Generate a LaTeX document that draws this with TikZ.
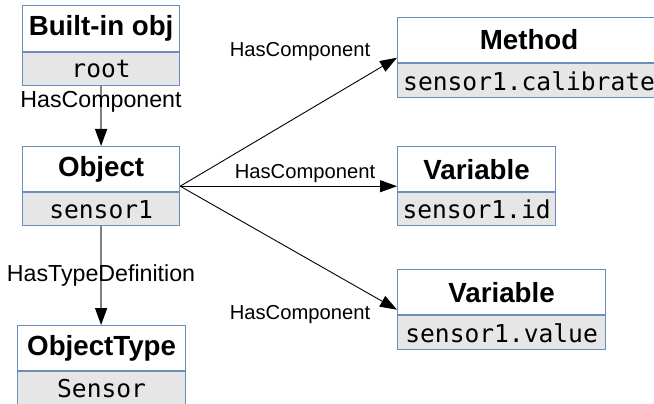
\documentclass[tikz,border=0pt]{standalone}
\usepackage{fontspec}
\setmainfont{Liberation Sans}
\newfontfamily\monofont{DejaVu Sans Mono}
\usetikzlibrary{arrows.meta,calc}
\definecolor{bordc}{HTML}{6C8EBF}
\definecolor{valfill}{HTML}{E6E6E6}
\definecolor{vgray}{HTML}{808080}
\begin{document}
\begin{tikzpicture}[x=1pt,y=-1pt,
  ttl/.style={draw=bordc, line width=1.2pt, fill=white, font=\fontsize{27.7}{30}\selectfont\bfseries, minimum height=45, inner sep=0, anchor=north west},
  val/.style={draw=bordc, line width=1.2pt, fill=valfill, font=\monofont\fontsize{24.6}{27}\selectfont, minimum height=33, inner sep=0, anchor=north},
  lbl/.style={font=\fontsize{20.2}{22}\selectfont, inner sep=0},
  vlbl/.style={font=\fontsize{23.2}{25}\selectfont, inner sep=0},
  vline/.style={draw=vgray, line width=1.5pt, -{Triangle[length=17pt,width=12pt,color=black]}},
  dline/.style={draw=black, line width=0.9pt, -{Triangle[length=17pt,width=12pt]}}]
\useasboundingbox (0,0) rectangle (654,404);
\clip (0,0) rectangle (654,404);
% boxes
\node[ttl, minimum width=157, minimum height=46] (bt) at (22,5) {Built-in obj};
\node[val, minimum width=157] (br) at (bt.south) {root};
\node[ttl, minimum width=157] (ot) at (22,146) {Object};
\node[val, minimum width=157] (or) at (ot.south) {sensor1};
\node[ttl, minimum width=168] (tt) at (17,325) {ObjectType};
\node[val, minimum width=168] (tr) at (tt.south) {Sensor};
\node[ttl, minimum width=263] (mt) at (397,17) {Method};
\node[val, minimum width=263, minimum height=34] (mr) at (mt.south) {sensor1.calibrate};
\node[ttl, minimum width=158] (vt) at (397,146) {Variable};
\node[val, minimum width=158] (vr) at (vt.south) {sensor1.id};
\node[ttl, minimum width=208] (wt) at (397,269) {Variable};
\node[val, minimum width=208, minimum height=34] (wr) at (wt.south) {sensor1.value};
% connectors
\draw[vline] (br.south) -- (ot.north);
\draw[vline] (or.south) -- (or.south |- tt.north);
\coordinate (src) at ($(ot.north east)!0.5!(or.south east)$);
\draw[dline] (src) -- ($(mt.north west)!0.5!(mr.south west)$);
\draw[dline] (src) -- ($(vt.north west)!0.5!(vr.south west)$);
\draw[dline] (src) -- ($(wt.north west)!0.5!(wr.south west)$);
% labels
\node[vlbl] (l0) at (101,102) {HasComponent};
\node[vlbl] (l4) at (101,276) {HasTypeDefinition};
\node[lbl] (l1) at (300,52) {HasComponent};
\node[lbl] (l2) at (305,174) {HasComponent};
\node[lbl] (l3) at (300,315) {HasComponent};
\end{tikzpicture}
\end{document}
